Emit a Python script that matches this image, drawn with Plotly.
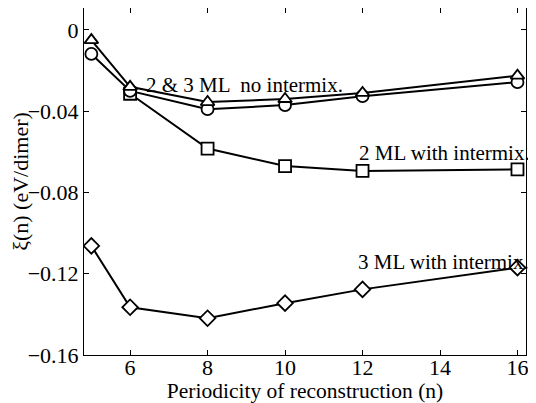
import plotly.graph_objects as go

n_all = [5, 6, 8, 10, 12, 16]
n_sq = [6, 8, 10, 12, 16]
tri_3ml_no = [-0.005, -0.028, -0.0355, -0.034, -0.031, -0.0225]
circ_2ml_no = [-0.0118, -0.030, -0.039, -0.037, -0.0326, -0.0257]
sq_2ml_mix = [-0.0314, -0.0584, -0.067, -0.0694, -0.0686]
dia_3ml_mix = [-0.1063, -0.1365, -0.1419, -0.1345, -0.1277, -0.117]

x_ticks = [6, 8, 10, 12, 14, 16]
y_ticks = [0, -0.04, -0.08, -0.12, -0.16]
y_ticktext = ["0", "\u22120.04", "\u22120.08", "\u22120.12", "\u22120.16"]

FONT = "Liberation Serif, Times New Roman, serif"

fig = go.Figure()

def add(x, y, sym):
    fig.add_trace(go.Scatter(
        x=x, y=y, mode="lines+markers",
        line=dict(color="black", width=2),
        marker=dict(symbol=sym, size=12, color="white",
                    line=dict(color="black", width=1.8)),
        showlegend=False))

add(n_sq, sq_2ml_mix, "square")
add(n_all, dia_3ml_mix, "diamond")
add(n_all, circ_2ml_no, "circle")
add(n_all, tri_3ml_no, "triangle-up")

annots = [
    dict(x=8.95, y=-0.0269, text="2 &amp; 3 ML  no intermix."),
    dict(x=14.11, y=-0.0608, text="2 ML with intermix."),
    dict(x=14.09, y=-0.1140, text="3 ML with intermix."),
]
for a in annots:
    fig.add_annotation(x=a["x"], y=a["y"], text=a["text"], showarrow=False,
                       font=dict(family=FONT, size=21, color="black"),
                       xanchor="center", yanchor="middle")

axis_common = dict(showgrid=False, zeroline=False, showline=True,
                   linecolor="black", linewidth=1, mirror="ticks",
                   ticks="inside", ticklen=5, tickcolor="black",
                   tickfont=dict(family=FONT, size=22, color="black"))

fig.update_xaxes(range=[4.81, 16.22], tickvals=x_ticks,
                 ticklabelstandoff=-7,
                 title=dict(text="Periodicity of reconstruction (n)",
                            font=dict(family=FONT, size=21.5, color="black"),
                            standoff=7),
                 **axis_common)
fig.update_yaxes(range=[-0.16, 0.0108], tickvals=y_ticks, ticktext=y_ticktext,
                 title=dict(text="\u03be(n) (eV/dimer)",
                            font=dict(family=FONT, size=22, color="black"),
                            standoff=4),
                 **axis_common)

fig.update_layout(width=528, height=395,
                  margin=dict(l=76, r=10, t=0, b=48),
                  plot_bgcolor="white", paper_bgcolor="white")

fig.write_html("out.html")
